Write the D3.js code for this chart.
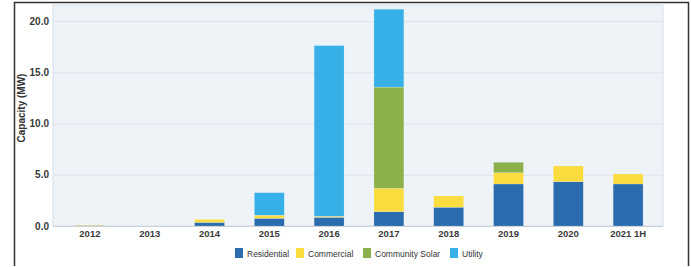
<!DOCTYPE html>
<html>
<head>
<meta charset="utf-8">
<script src="https://cdn.jsdelivr.net/npm/d3@7"></script>
<style>
    body { margin: 0; background: #fff; }
    text { font-family: "Liberation Sans", Arial, sans-serif; }
</style>
</head>
<body>
<script>
"use strict";

var years = ["2012", "2013", "2014", "2015", "2016", "2017", "2018", "2019", "2020", "2021 1H"];
var seriesNames = ["Residential", "Commercial", "Community Solar", "Utility"];
var residential = [0.05, 0, 0.35, 0.75, 0.85, 1.4, 1.83, 4.1, 4.33, 4.1];
var commercial = [0.05, 0, 0.3, 0.3, 0.1, 2.28, 1.1, 1.1, 1.53, 0.98];
var communitySolar = [0, 0, 0, 0, 0, 9.87, 0, 1.02, 0, 0];
var utility = [0, 0, 0, 2.2, 16.65, 7.6, 0, 0, 0, 0];
var yTicks = [0, 5, 10, 15, 20];
var colors = ["#2b6cae", "#fbdc3e", "#8cb14a", "#36b0e6"];

function init() {
    var w = 691;
    var h = 267;

    var table = years.map(function (y, i) {
        return {
            year: y,
            "Residential": residential[i],
            "Commercial": commercial[i],
            "Community Solar": communitySolar[i],
            "Utility": utility[i]
        };
    });

    var stacked = d3.stack().keys(seriesNames)(table);

    var svg = d3.select("body")
        .append("svg")
        .attr("width", w)
        .attr("height", h);

    //outer frame
    svg.append("path")
        .attr("d", "M14.5,266 L14.5,2.5 L688.5,2.5 L688.5,266")
        .attr("fill", "none")
        .attr("stroke", "#333")
        .attr("stroke-width", 1.5);

    var xScale = d3.scaleBand()
        .domain(years)
        .range([60, 658])
        .paddingInner(0.5)
        .paddingOuter(0.25);

    var yScale = d3.scaleLinear()
        .domain([0, 20])
        .range([226, 21]);

    //plot background
    svg.append("rect")
        .attr("x", 53)
        .attr("y", yScale(21.55))
        .attr("width", 610)
        .attr("height", yScale(0) - yScale(21.55))
        .attr("fill", "#eef3f8")
        .attr("stroke", "#d6dde5")
        .attr("stroke-width", 1);

    //gridlines
    svg.selectAll("line.grid")
        .data(yTicks)
        .enter()
        .append("line")
        .attr("class", "grid")
        .attr("x1", 53)
        .attr("x2", 663)
        .attr("y1", function (d) { return yScale(d) + 0.5; })
        .attr("y2", function (d) { return yScale(d) + 0.5; })
        .attr("stroke", function (d) { return d === 0 ? "#c9d0d8" : "#dde3ea"; })
        .attr("stroke-width", 1.2);

    //bars
    svg.selectAll("g.series")
        .data(stacked)
        .enter()
        .append("g")
        .attr("class", "series")
        .attr("fill", function (d, i) { return colors[i]; })
        .selectAll("rect")
        .data(function (d) { return d; })
        .enter()
        .append("rect")
        .attr("x", function (d) { return xScale(d.data.year); })
        .attr("y", function (d) { return yScale(d[1]); })
        .attr("width", xScale.bandwidth())
        .attr("height", function (d) { return yScale(d[0]) - yScale(d[1]); })
        .attr("stroke", "#ffffff")
        .attr("stroke-opacity", 0.35)
        .attr("stroke-width", 0.5);

    //y axis
    var yAxis = d3.axisLeft(yScale)
        .tickValues(yTicks)
        .tickSize(0)
        .tickPadding(4)
        .tickFormat(d3.format(".1f"));

    var yg = svg.append("g")
        .attr("transform", "translate(53,0)")
        .call(yAxis);
    yg.select(".domain").remove();
    yg.selectAll("text")
        .attr("font-size", 10)
        .attr("font-weight", "bold")
        .attr("fill", "#3a3a3a");

    //x axis
    var xAxis = d3.axisBottom(xScale)
        .tickSize(0)
        .tickPadding(4);

    var xg = svg.append("g")
        .attr("transform", "translate(0,226)")
        .call(xAxis);
    xg.select(".domain").remove();
    xg.selectAll("text")
        .attr("font-size", 9.5)
        .attr("font-weight", "bold")
        .attr("fill", "#3a3a3a");

    //y axis title
    svg.append("text")
        .attr("transform", "translate(25,108) rotate(-90)")
        .attr("text-anchor", "middle")
        .attr("font-size", 10)
        .attr("font-weight", "bold")
        .attr("fill", "#333")
        .text("Capacity (MW)");

    //legend
    var legendX = [235, 296, 363, 450];
    var legend = svg.selectAll("g.legend")
        .data(seriesNames)
        .enter()
        .append("g")
        .attr("class", "legend")
        .attr("transform", function (d, i) { return "translate(" + legendX[i] + ",248)"; });

    legend.append("rect")
        .attr("width", 8)
        .attr("height", 10)
        .attr("fill", function (d, i) { return colors[i]; });

    legend.append("text")
        .attr("x", 12)
        .attr("y", 8.5)
        .attr("font-size", 8.5)
        .attr("fill", "#333")
        .text(function (d) { return d; });
}

window.onload = init;
</script>
</body>
</html>
